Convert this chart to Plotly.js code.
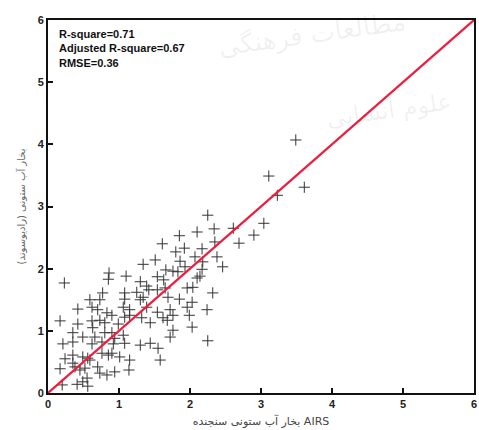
<!DOCTYPE html>
<html>
<head>
<meta charset="utf-8">
<script src="https://cdn.plot.ly/plotly-3.0.1.min.js"></script>
<style>html,body{margin:0;padding:0;background:#fff;}#chart{width:479px;height:430px;}</style>
</head>
<body>
<div id="chart"></div>
<script>
// AIRS column water vapour (x) vs reference column water vapour (y)
const airsX = [
0.23,0.86,0.85,1.10,1.34,1.51,1.61,1.85,2.10,1.80,1.92,1.66,1.86,1.76,1.83,1.54,1.63,1.30,1.39,1.42,
1.54,1.65,1.96,2.04,2.10,0.77,1.08,1.25,1.34,0.59,0.73,0.62,0.42,0.70,0.83,1.08,1.30,1.06,1.15,1.39,
1.54,1.72,1.85,1.96,1.62,1.76,0.17,0.42,0.62,0.63,0.80,0.90,0.99,1.15,1.32,1.44,1.68,1.76,1.72,2.03,
0.35,0.49,0.66,0.90,1.06,0.21,0.35,0.62,0.76,0.92,1.08,1.30,1.44,1.55,0.35,0.24,0.49,0.35,0.59,0.85,
1.01,1.15,0.90,1.58,0.17,0.45,0.70,0.73,0.83,0.94,1.14,0.55,3.49,3.11,3.61,3.23,2.25,2.34,2.61,3.04,
2.90,2.69,2.17,2.35,2.07,2.38,2.46,2.18,1.93,2.17,2.14,2.32,2.03,1.69,2.24,1.99,2.25,0.20,0.41,0.56,
0.49,0.73,1.08,0.80,0.94,0.56,0.76,0.38,0.52
];
const refY = [
1.77,1.93,1.83,1.88,2.07,2.14,2.40,2.53,2.59,2.27,2.33,1.98,2.12,1.96,1.95,1.87,1.82,1.79,1.72,1.66,
1.66,1.69,1.69,1.70,1.85,1.61,1.61,1.62,1.54,1.50,1.50,1.38,1.35,1.34,1.29,1.51,1.50,1.38,1.34,1.38,
1.30,1.34,1.51,1.38,1.21,1.25,1.16,1.11,1.16,1.05,1.13,1.25,1.11,1.25,1.21,1.13,1.17,1.01,0.90,1.06,
0.97,0.90,0.90,0.97,0.93,0.79,0.82,0.79,0.82,0.79,0.80,0.77,0.80,0.72,0.61,0.55,0.58,0.48,0.53,0.61,
0.58,0.53,0.64,0.53,0.39,0.37,0.42,0.32,0.29,0.34,0.37,0.24,4.07,3.49,3.31,3.18,2.86,2.64,2.65,2.73,
2.54,2.41,2.32,2.43,2.19,2.19,2.03,2.11,2.03,1.99,1.88,1.61,1.46,1.54,1.34,1.25,0.84,0.13,0.14,0.11,
0.18,1.17,1.22,0.97,0.88,0.56,0.64,0.42,0.40
];
const lineX = [0, 6];
const lineY = [0, 6];
const tickVals = [0, 1, 2, 3, 4, 5, 6];
const tickText = ['0', '1', '2', '3', '4', '5', '6'];
const statLines = ['R-square=0.71', 'Adjusted R-square=0.67', 'RMSE=0.36'];
const xTitle = 'بخار آب ستونی سنجنده AIRS';
const yTitle = 'بخار آب ستونی (رادیوسوند)';

const traces = [
  {
    x: airsX, y: refY, type: 'scatter', mode: 'markers',
    marker: {symbol: 'cross-thin', size: 8, line: {width: 1, color: '#333'}, color: '#333'},
    hoverinfo: 'x+y', showlegend: false
  },
  {
    x: lineX, y: lineY, type: 'scatter', mode: 'lines',
    line: {color: '#ee1b3c', width: 2.2}, showlegend: false
  }
];

const axisBase = {
  range: [0, 6], tickvals: tickVals, ticktext: tickText,
  showgrid: false, zeroline: false, showline: true, linecolor: '#111', linewidth: 2,
  mirror: true, ticks: 'inside', ticklen: 5, tickwidth: 2, tickcolor: '#111',
  tickfont: {family: 'Liberation Sans, Arial, sans-serif', size: 11, color: '#222', weight: 'bold'}
};

const layout = {
  width: 479, height: 430,
  margin: {l: 48, r: 5, t: 20, b: 37},
  paper_bgcolor: '#fff', plot_bgcolor: 'rgba(0,0,0,0)',
  xaxis: Object.assign({}, axisBase, {
    title: {text: xTitle, standoff: 8, font: {family: 'DejaVu Sans, Noto Sans, sans-serif', size: 11, color: '#444'}}
  }),
  yaxis: Object.assign({}, axisBase, {
    title: {text: yTitle, standoff: 10, font: {family: 'DejaVu Sans, Noto Sans, sans-serif', size: 10, color: '#666'}}
  }),
  annotations: [
    {xref: 'paper', yref: 'paper', x: 0.02, y: 0.985, xanchor: 'left', yanchor: 'top', align: 'left',
     showarrow: false, text: statLines.join('<br>'),
     font: {family: 'Liberation Sans, Arial, sans-serif', size: 11, color: '#111', weight: 'bold'}},
    {xref: 'paper', yref: 'paper', x: 0.62, y: 0.96, xanchor: 'center', yanchor: 'middle',
     showarrow: false, text: 'مطالعات فرهنگی', textangle: -8,
     font: {family: 'DejaVu Sans, sans-serif', size: 26, color: 'rgba(0,0,0,0.06)'}},
    {xref: 'paper', yref: 'paper', x: 0.8, y: 0.76, xanchor: 'center', yanchor: 'middle',
     showarrow: false, text: 'علوم انسانی', textangle: -8,
     font: {family: 'DejaVu Sans, sans-serif', size: 24, color: 'rgba(0,0,0,0.06)'}}
  ]
};

Plotly.newPlot('chart', traces, layout, {staticPlot: true, displayModeBar: false});
</script>
</body>
</html>
